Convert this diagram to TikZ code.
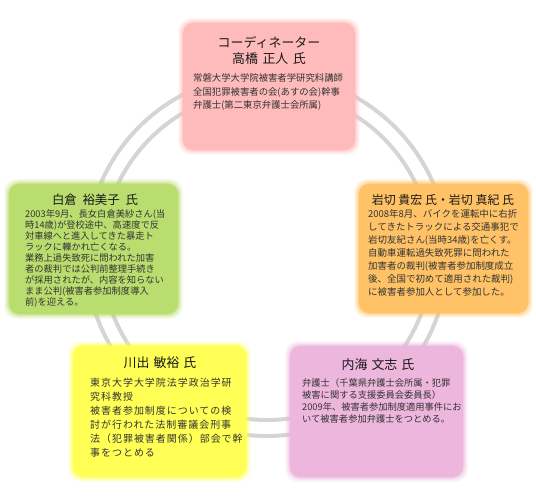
\documentclass[tikz,border=0pt]{standalone}
\usepackage{fontspec}
\setmainfont{Noto Sans CJK JP}
\newfontfamily\yspfont[LetterSpace=10]{Noto Sans CJK JP}
\definecolor{ringc}{HTML}{D5D5D5}
\definecolor{pinkc}{HTML}{FFBBBB}
\definecolor{greenc}{HTML}{B9DD6E}
\definecolor{orangec}{HTML}{FFC266}
\definecolor{yellowc}{HTML}{FFFF55}
\definecolor{purplec}{HTML}{EDB6DD}
\definecolor{txt}{HTML}{333333}
\newcommand\glowcard[6]{%
  \foreach \g/\o in {5/0.10,4/0.14,3/0.2,2/0.28,1/0.4}{%
    \fill[#2,opacity=\o,rounded corners=12bp] ({#3-\g},{#4-\g}) rectangle ({#5+\g},{#6+\g});
  }%
  \fill[#2,rounded corners=10bp] (#3,#4) rectangle (#5,#6);
  \coordinate (#1) at ({(#3+#5)/2},{(#4+#6)/2});
}
\tikzset{
  ttl/.style={inner sep=0, text=black!90, font=\fontsize{13}{15}\selectfont},
  body/.style={inner sep=0, anchor=west, align=left, text=txt},
  ring/.style={draw=ringc, line width=4bp}
}
\begin{document}
\begin{tikzpicture}[x=1bp,y=-1bp]
\useasboundingbox (0,0) rectangle (536,498);
\draw[ring] (267,255) circle[radius=181bp];
\draw[ring] (267,255) circle[radius=165bp];

\glowcard{pink}{pinkc}{183}{23}{355}{150}
\glowcard{green}{greenc}{9}{184}{178}{314}
\glowcard{orange}{orangec}{359}{184}{528}{313}
\glowcard{yellow}{yellowc}{73}{346}{246}{477}
\glowcard{purple}{purplec}{290}{346}{463}{477}

% pink
\node[ttl] (p1) at (269,42) {コーディネーター};
\node[ttl] (p2) at (269,59) {高橋\hspace{.35em}正人\hspace{.35em}氏};
\node[body,font=\fontsize{9.4}{14}\selectfont] (pb) at (193,92)
 {常磐大学大学院被害者学研究科講師\\全国犯罪被害者の会(あすの会)幹事\\弁護士(第二東京弁護士会所属)};

% green
\node[ttl,font=\fontsize{12.5}{15}\selectfont] (g1) at (95,200) {白倉\hspace{.45em}裕美子\hspace{.45em}氏};
\node[body,font=\fontsize{9.3}{11.1}\selectfont] (gb) at (25,258.3)
 {2003年9月、長女白倉美紗さん(当\\時14歳)が登校途中、高速度で反\\対車線へと進入してきた暴走ト\\ラックに轢かれ亡くなる。\\業務上過失致死に問われた加害\\者の裁判では公判前整理手続き\\が採用されたが、内容を知らない\\まま公判(被害者参加制度導入\\前)を迎える。};

% orange
\node[ttl,font=\fontsize{12}{15}\selectfont] (o1) at (443,200) {岩切 貴宏 氏・岩切 真紀 氏};
\node[body,font=\fontsize{9.5}{13}\selectfont] (ob) at (368,253)
 {2008年8月、バイクを運転中に右折\\してきたトラックによる交通事犯で\\岩切友紀さん(当時34歳)を亡くす。\\自動車運転過失致死罪に問われた\\加害者の裁判(被害者参加制度成立\\後、全国で初めて適用された裁判)\\に被害者参加人として参加した。};

% yellow
\node[ttl] (y1) at (160,363) {川出\hspace{.3em}敏裕\hspace{.3em}氏};
\node[body,font=\yspfont\fontsize{10}{14}\selectfont] (yb) at (90,418)
 {東京大学大学院法学政治学研\\究科教授\\被害者参加制度についての検\\討が行われた法制審議会刑事\\法（犯罪被害者関係）部会で幹\\事をつとめる};

% purple
\node[ttl] (u1) at (378,365) {内海\hspace{.3em}文志\hspace{.3em}氏};
\node[body,font=\fontsize{9.3}{12}\selectfont] (ub) at (302,401)
 {弁護士（千葉県弁護士会所属・犯罪\\被害に関する支援委員会委員長）\\2009年、被害者参加制度適用事件にお\\いて被害者参加弁護士をつとめる。};
\end{tikzpicture}
\end{document}
